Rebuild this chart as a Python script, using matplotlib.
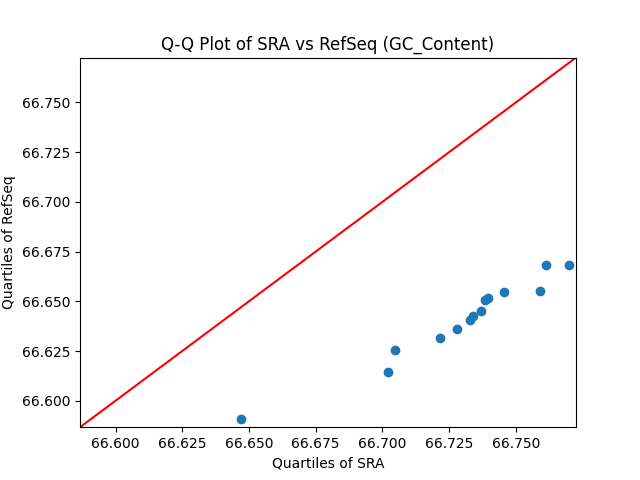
import matplotlib
matplotlib.use("Agg")
import matplotlib.pyplot as plt
import numpy as np

sra_quantiles = [66.6470, 66.7022, 66.7048, 66.7216, 66.7280, 66.7329, 66.7340,
                 66.7368, 66.7384, 66.7397, 66.7455, 66.7591, 66.7614, 66.7699]
refseq_quantiles = [66.5907, 66.6143, 66.6255, 66.6315, 66.6361, 66.6404, 66.6426,
                    66.6451, 66.6505, 66.6515, 66.6547, 66.6552, 66.6682, 66.6682]
axis_limits = [66.5867, 66.7725]

fig, ax = plt.subplots(figsize=(6.4, 4.8), dpi=100)
ax.scatter(sra_quantiles, refseq_quantiles)
ax.plot(axis_limits, axis_limits, 'r-')
ax.set_xlim(axis_limits)
ax.set_ylim(axis_limits)
ax.set_title("Q-Q Plot of SRA vs RefSeq (GC_Content)")
ax.set_xlabel("Quartiles of SRA")
ax.set_ylabel("Quartiles of RefSeq")
fig.savefig("out.png")
